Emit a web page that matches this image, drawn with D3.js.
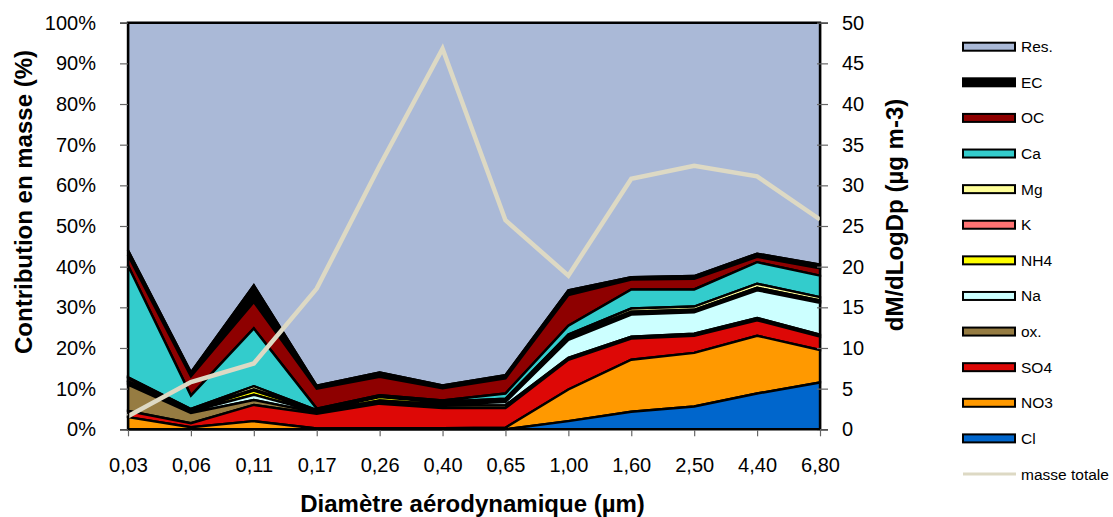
<!DOCTYPE html>
<html>
<head>
<meta charset="utf-8">
<script src="https://cdn.jsdelivr.net/npm/d3@7"></script>
<style>
  html, body { margin: 0; padding: 0; background: #fff; }
  svg { display: block; font-family: "Liberation Sans", Arial, sans-serif; }
</style>
</head>
<body>
<svg id="chart" width="1113" height="517"></svg>
<script>
// ---- data ----
const categories = ["0,03","0,06","0,11","0,17","0,26","0,40","0,65","1,00","1,60","2,50","4,40","6,80"];
const seriesNames = ["Cl","NO3","SO4","ox.","Na","NH4","K","Mg","Ca","OC","EC","Res."];
const Cl   = [0, 0, 0, 0, 0, 0, 0, 2.0, 4.3, 5.6, 8.8, 11.5];
const NO3  = [3.0, 0.5, 2.0, 0.2, 0.3, 0.3, 0.4, 7.8, 12.8, 13.2, 14.2, 8.0];
const SO4  = [1.5, 1.0, 4.0, 3.6, 6.0, 4.9, 4.8, 7.3, 5.2, 4.2, 3.8, 3.3];
const ox   = [6.5, 2.5, 1.2, 0.3, 0.5, 0.6, 0.7, 0.5, 0.5, 0.5, 0.6, 0.5];
const Na   = [0.5, 0.4, 1.3, 0.2, 0.3, 0.3, 0.8, 4.4, 5.4, 5.3, 6.8, 7.8];
const NH4  = [0.3, 0.2, 1.0, 0.2, 0.8, 0.5, 0.5, 0.6, 0.5, 0.4, 0.4, 0.4];
const K    = [0.7, 0.2, 0.3, 0.1, 0.1, 0.1, 0.1, 0.2, 0.2, 0.2, 0.2, 0.2];
const Mg   = [0.3, 0.2, 0.8, 0.1, 0.1, 0.1, 0.2, 0.5, 0.8, 0.8, 1.0, 0.8];
const Ca   = [27.5, 3.3, 14.2, 0.4, 0.3, 0.3, 1.3, 2.2, 4.7, 4.2, 5.3, 5.3];
const OC   = [2.5, 4.7, 6.5, 4.9, 4.5, 3.0, 3.7, 7.5, 2.4, 2.6, 1.3, 1.8];
const EC   = [1.2, 1.0, 4.1, 0.7, 1.1, 0.7, 0.8, 1.2, 0.6, 0.7, 0.8, 0.9];
const Res  = [56.0, 86.0, 64.6, 89.3, 86.0, 89.2, 86.7, 65.8, 62.6, 62.3, 56.8, 59.5];
const masseTotale = [1.6, 5.8, 8.1, 17.3, 32.4, 46.8, 25.7, 18.9, 30.8, 32.4, 31.1, 25.8];
const leftTicks = [0,10,20,30,40,50,60,70,80,90,100];
const rightTicks = [0,5,10,15,20,25,30,35,40,45,50];

const seriesValues = {"Cl":Cl,"NO3":NO3,"SO4":SO4,"ox.":ox,"Na":Na,"NH4":NH4,"K":K,"Mg":Mg,"Ca":Ca,"OC":OC,"EC":EC,"Res.":Res};
const colors = {"Cl":"#0066CC","NO3":"#FF9900","SO4":"#DD0806","ox.":"#967C42","Na":"#CCFFFF",
  "NH4":"#FFFF00","K":"#FF7373","Mg":"#FFFF99","Ca":"#33CCCC","OC":"#8E0000","EC":"#000000","Res.":"#AAB9D7"};
const lineColor = "#DDD9C4";

// ---- layout ----
const L = 128, R = 820, T = 22.7, B = 429.3;
const svg = d3.select("#chart");
svg.append("rect").attr("width",1113).attr("height",517).attr("fill","#fff");

const x = d3.scalePoint().domain(categories).range([L, R]);
const yL = d3.scaleLinear().domain([0,100]).range([B, T]);
const yR = d3.scaleLinear().domain([0,50]).range([B, T]);

const table = categories.map((c,i) => {
  const o = {cat:c};
  seriesNames.forEach(s => o[s] = seriesValues[s][i]);
  return o;
});
const stacked = d3.stack().keys(seriesNames)(table);

const area = d3.area()
  .x(d => x(d.data.cat))
  .y0(d => yL(d[0]))
  .y1(d => yL(d[1]));

// draw from top series down so that lower outlines sit on top
const g = svg.append("g");
stacked.slice().reverse().forEach(layer => {
  g.append("path")
    .datum(layer)
    .attr("d", area)
    .attr("fill", colors[layer.key])
    .attr("stroke", "#000")
    .attr("stroke-width", 2.4)
    .attr("stroke-linejoin", "miter");
});

// total mass line
const line = d3.line().x((d,i) => x(categories[i])).y(d => yR(d));
svg.append("path").datum(masseTotale).attr("d", line)
  .attr("fill","none").attr("stroke", lineColor).attr("stroke-width", 4.5)
  .attr("stroke-linejoin","miter");

// ---- axes ----
const axL = svg.append("g").attr("transform", `translate(${L},0)`)
  .call(d3.axisLeft(yL).tickValues(leftTicks).tickFormat(d => d + "%").tickSize(8).tickPadding(24));
const axR = svg.append("g").attr("transform", `translate(${R},0)`)
  .call(d3.axisRight(yR).tickValues(rightTicks).tickFormat(d => d).tickSize(8).tickPadding(14));
const axB = svg.append("g").attr("transform", `translate(0,${B})`)
  .call(d3.axisBottom(x).tickSize(7).tickPadding(21.5));

[axL, axR, axB].forEach(a => {
  a.selectAll("text").attr("font-size", 20).attr("fill","#000")
    .attr("font-family", '"Liberation Sans", Arial, sans-serif');
  a.select(".domain").attr("stroke","#000").attr("stroke-width",1.5);
  a.selectAll(".tick line").attr("stroke","#666").attr("stroke-width",1.2);
});
axR.selectAll(".tick line").attr("x1", -3);
axB.select(".domain").remove();
svg.append("line").attr("x1", L).attr("x2", R).attr("y1", B).attr("y2", B)
  .attr("stroke","#000").attr("stroke-width",1.5);

// ---- titles ----
svg.append("text").attr("transform","translate(32,202) rotate(-90)")
  .attr("text-anchor","middle").attr("font-weight","bold").attr("font-size",24)
  .text("Contribution en masse (%)");
svg.append("text").attr("transform","translate(903,215) rotate(-90)")
  .attr("text-anchor","middle").attr("font-weight","bold").attr("font-size",24)
  .text("dM/dLogDp (µg m-3)");
svg.append("text").attr("x",472.5).attr("y",511.5)
  .attr("text-anchor","middle").attr("font-weight","bold").attr("font-size",24)
  .text("Diamètre aérodynamique (µm)");

// ---- legend ----
const legendOrder = ["Res.","EC","OC","Ca","Mg","K","NH4","Na","ox.","SO4","NO3","Cl"];
const legendY = d3.scaleLinear().domain([0,12]).range([46.7, 474]);
const lg = svg.append("g");
legendOrder.forEach((k,i) => {
  const cy = legendY(i);
  lg.append("rect").attr("x",963).attr("y",cy-4).attr("width",52).attr("height",8)
    .attr("fill",colors[k]).attr("stroke","#000").attr("stroke-width",2);
  lg.append("text").attr("x",1021).attr("y",cy+5.5).attr("font-size",15.5).text(k);
});
const cyL = legendY(12);
lg.append("line").attr("x1",963).attr("x2",1016).attr("y1",cyL).attr("y2",cyL)
  .attr("stroke",lineColor).attr("stroke-width",3);
lg.append("text").attr("x",1021).attr("y",cyL+5.5).attr("font-size",15.5).text("masse totale");
</script>
</body>
</html>
